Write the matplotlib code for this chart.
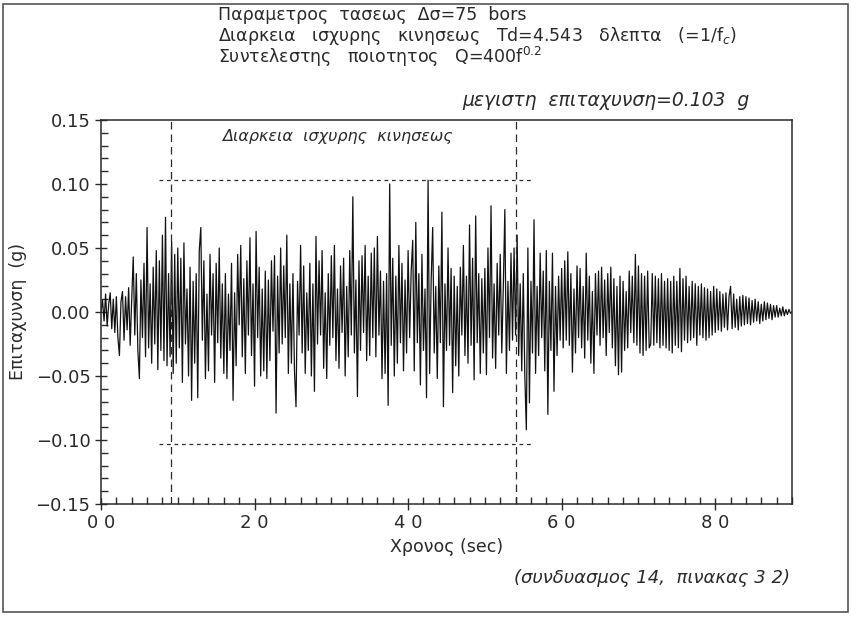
import numpy as np
import matplotlib
matplotlib.use("Agg")
from matplotlib import pyplot as plt
from matplotlib.patches import Rectangle

# επιταχυνση σε 0.001 g, ανα 0.2 sec (διαβασμενα απο το σχημα)
acc_rows = [
    [0, 9, -7, 14, -11, 6, 15, -13, 10, -16, 12, -20, -34, 8, 16, -22, 12, -14, 19, -26, 10, 43, -18, 30, -30],
    [-52, 25, -20, 38, -35, 66, -28, 22, -40, 35, -25, 48, -45, 40, -30, 60, -38, 74, -42, 30, -35, 55, -48, 45, -40],
    [50, -28, 42, -55, 54, -25, 18, -50, 35, -69, 24, -40, 30, -67, 48, 66, -22, 40, -52, 14, -46, 45, -18, 30, -55],
    [38, -24, 50, -36, 22, -48, 30, -52, 14, -30, 38, -69, 15, -42, 45, -10, 52, -35, 26, -48, 40, -18, 58, -34, 22],
    [-58, 63, -20, 35, -50, 18, -46, 32, -52, 25, -38, 40, -15, 44, -79, 28, -32, 50, -25, 36, -20, 60, -48, 22, -40],
    [30, -46, -74, 24, -18, 52, -32, 36, -48, 15, -30, 38, -50, 22, -62, 59, -25, 40, -18, 48, -44, 15, -52, 30, -26],
    [44, -20, 52, -38, 18, -44, 36, -16, 42, -50, 20, -35, 48, -18, 90, -32, 25, -66, 40, -30, 44, -16, 52, -38, 28],
    [-34, 46, -20, 50, -35, 59, -18, 32, -52, 24, -48, 30, -73, 100, -26, 42, -50, 28, -40, 52, -24, 38, -46, 25, -32],
    [48, -20, 32, 56, -46, 70, -24, 30, -57, 45, -30, 18, -67, 103, -48, 24, 66, -32, 20, -52, 36, -24, 78, -74, 22],
    [-30, 50, -26, 34, -63, 28, -42, 20, -50, 35, -18, 52, -34, 28, -40, 68, -26, 42, -53, 75, -24, 30, -48, 26, -32],
    [34, -49, 50, -20, 83, -36, 22, -44, 38, -18, 45, -32, 20, 80, -48, 24, -30, 46, -22, 50, -18, 60, -34, 22, -46],
    [30, -50, -92, 50, -71, 24, -32, 72, -48, 20, -34, 46, -20, 32, -46, 48, -80, 24, -30, 46, -62, 20, -34, 28, -22],
    [34, -28, 40, -22, 47, -26, 30, -47, 18, -32, 36, -20, 34, -28, 20, -36, 46, -22, 28, -40, 16, -48, 30, -18, 32],
    [-26, 35, -20, 25, -34, 30, -16, 35, -28, 26, -42, 20, -49, 28, -47, 24, -30, 16, -28, 32, -16, 28, -24, 45, -26],
    [36, -32, 30, -34, 28, -30, 32, -28, -25, 30, -26, 28, -24, 26, -28, 30, -26, 24, -28, 26, -30, 24, -32, 28, -26],
    [24, -28, 34, -31, 26, -22, 28, -24, 20, -22, 24, -20, 22, -26, 20, -18, 22, -20, 19, -22, 18, -20, 16, -18, 20],
    [-16, 18, -14, 16, -15, 14, -12, 15, -14, 12, 20, -13, 14, -12, 10, -14, 12, -11, 13, -10, 12, -9, 11, -10, 9],
    [-8, 10, -7, 8, -9, 6, -7, 8, -6, 7, -5, 6, -6, 5, -4, 5, -4, 3, -3, 4, -3, 2, -2, 2, -1],
    [0],
]
dt = 0.2
t_start, t_end = 9.1, 54.0      # διαρκεια ισχυρης κινησεως
pga = 0.103
x_ticks = [0, 20, 40, 60, 80]
x_labels = ["0 0", "2 0", "4 0", "6 0", "8 0"]
y_ticks = [0.15, 0.10, 0.05, 0.00, -0.05, -0.10, -0.15]
y_labels = ["0.15", "0.10", "0.05", "0.00", "\u22120.05", "\u22120.10", "\u22120.15"]

head_lines = [
    "Παραμετρος  τασεως  Δσ=75  bors",
    "Διαρκεια   ισχυρης   κινησεως   Td=4.543   δλεπτα   (=1/f$_c$)",
    "Συντελεστης   ποιοτητος   Q=400f$^{0.2}$",
]

acc = np.array([v for row in acc_rows for v in row]) / 1000.0
t = np.arange(len(acc)) * dt

tc = "#2a2a2a"
plt.rcParams['font.family'] = ['DejaVu Sans']
fig = plt.figure(figsize=(8.51, 6.20), dpi=100)
ax = fig.add_axes([101/851, 1 - 504/620, 691/851, 384/620])

ax.plot(t, acc, color="#111111", lw=0.9)

# διακεκομμενες γραμμες
for tv in (t_start, t_end):
    ax.plot([tv, tv], [-0.15, 0.15], color=tc, lw=0.9, dashes=(6, 4))
for yv in (pga, -pga):
    ax.plot([7.6, 56.1], [yv, yv], color=tc, lw=0.9, dashes=(3, 3))

ax.text(15.8, 0.137, "Διαρκεια  ισχυρης  κινησεως", fontsize=11.5, style="italic",
        color=tc, va="center")

ax.set_xlim(0, 90)
ax.set_ylim(-0.15, 0.15)
ax.set_xticks(x_ticks)
ax.set_xticklabels(x_labels)
ax.set_yticks(y_ticks)
ax.set_yticklabels(y_labels)
ax.set_xticks(np.arange(0, 91, 2), minor=True)
ax.set_yticks(np.arange(-0.15, 0.151, 0.01), minor=True)
ax.tick_params(axis="both", which="major", direction="inout", length=9, width=1,
               labelsize=13, colors=tc, pad=3)
ax.tick_params(axis="both", which="minor", direction="in", length=5, width=1, colors=tc)
for s in ax.spines.values():
    s.set_color(tc)
    s.set_linewidth(1.1)

ax.set_xlabel("Χρονος (sec)", fontsize=12.5, color=tc, labelpad=4)
ax.set_ylabel("Επιταχυνση  (g)", fontsize=12.5, color=tc, labelpad=6)

for s, ypx in zip(head_lines, (15, 36, 57)):
    fig.text(218/851, 1 - ypx/620, s, fontsize=12.5, color=tc, va="center")

fig.text(606/851, 1 - 100/620, "μεγιστη  επιταχυνση=0.103  g", fontsize=13.5, style="italic",
         color=tc, va="center", ha="center")
fig.text(790/851, 1 - 578/620, "(συνδυασμος 14,  πινακας 3 2)", fontsize=13, style="italic",
         color=tc, va="center", ha="right")

fig.patches.append(Rectangle((3/851, 8/620), 845/851, 608/620, transform=fig.transFigure,
                             fill=False, edgecolor="#555555", lw=1.2))

fig.savefig("out.png", dpi=100)
